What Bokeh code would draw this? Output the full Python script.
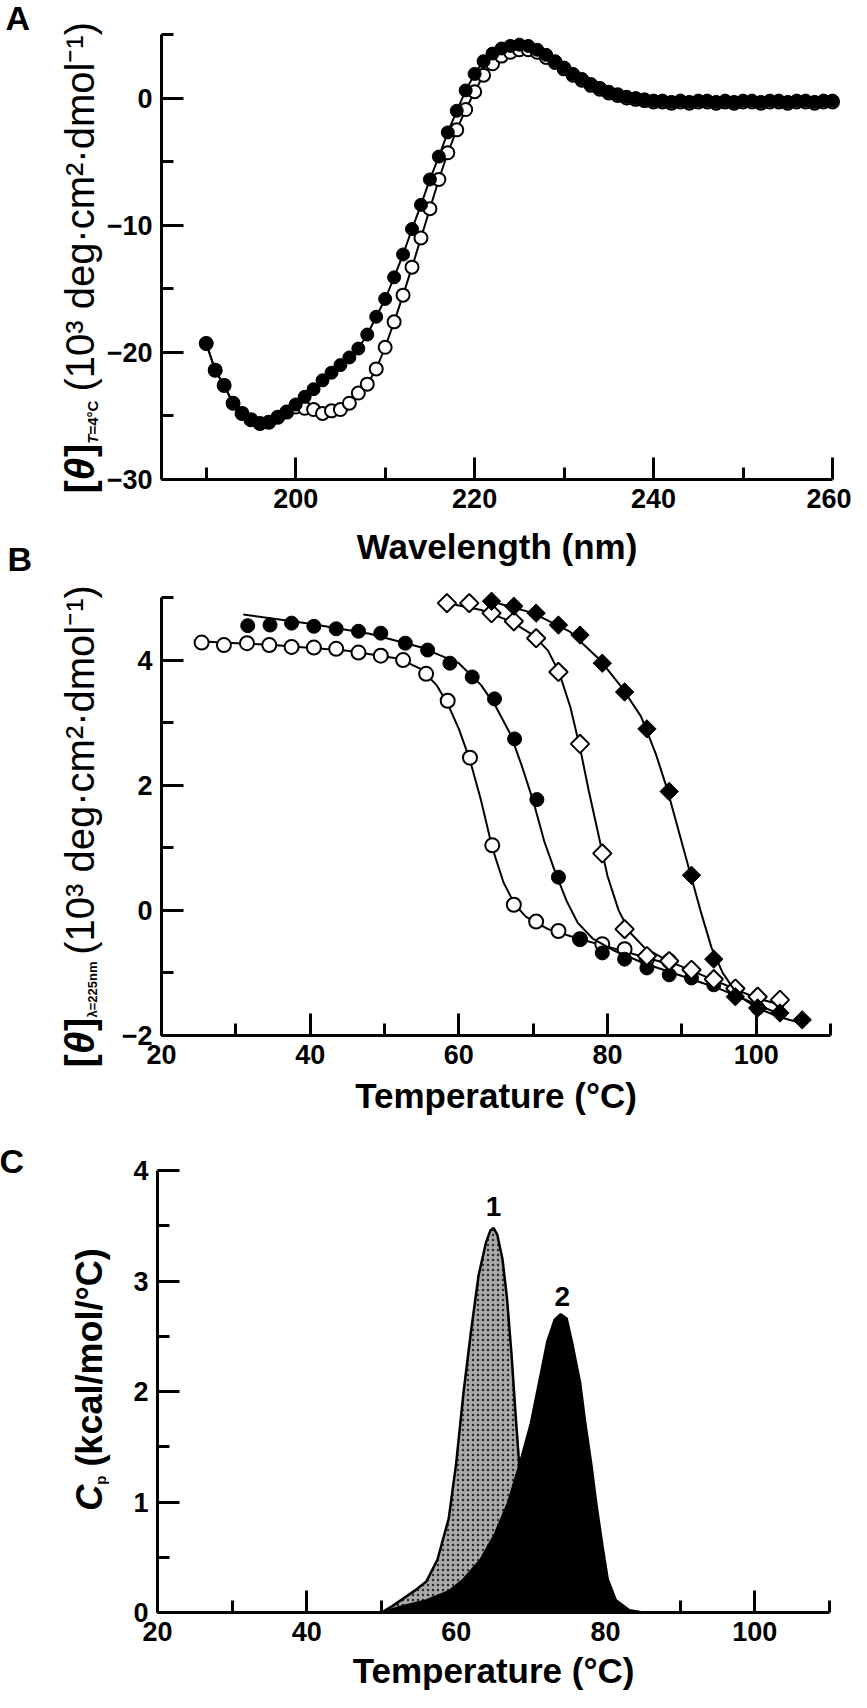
import math
from bokeh.plotting import figure
from bokeh.models import Label, FixedTicker, Range1d, LinearAxis
from bokeh.layouts import column
from bokeh.embed import file_html
from bokeh.resources import INLINE

FONT = "Liberation Sans"

# ---------------- Panel A data: CD spectra at 4 °C ----------------
wl = list(range(190, 261))
theta_filled = [-19.3, -21.4, -22.6, -24.0, -24.8, -25.3, -25.6, -25.5, -25.1, -24.7,
                -24.1, -23.5, -22.9, -22.2, -21.6, -21.0, -20.4, -19.7, -18.6, -17.2,
                -15.8, -14.1, -12.3, -10.3, -8.4, -6.4, -4.6, -2.7, -1.0, 0.6,
                1.9, 2.9, 3.5, 3.9, 4.1, 4.2, 4.1, 3.8, 3.4, 2.9,
                2.4, 1.9, 1.5, 1.1, 0.8, 0.5, 0.3, 0.1, 0.0, -0.1,
                -0.2, -0.2, -0.3, -0.2, -0.3, -0.2, -0.2, -0.3, -0.2, -0.3,
                -0.2, -0.2, -0.3, -0.2, -0.2, -0.3, -0.2, -0.2, -0.3, -0.2, -0.2]
theta_open = [-19.3, -21.4, -22.6, -24.0, -24.8, -25.3, -25.6, -25.5, -25.1, -24.7,
              -24.3, -24.4, -24.5, -24.8, -24.6, -24.5, -24.0, -23.2, -22.5, -21.3,
              -19.6, -17.6, -15.5, -13.3, -11.0, -8.7, -6.4, -4.3, -2.5, -0.9,
              0.5, 1.8, 2.7, 3.3, 3.6, 3.8, 3.8, 3.6, 3.2, 2.8,
              2.3, 1.8, 1.4, 1.0, 0.7, 0.4, 0.2, 0.0, -0.1, -0.2,
              -0.3, -0.3, -0.4, -0.3, -0.4, -0.3, -0.3, -0.4, -0.3, -0.4,
              -0.3, -0.3, -0.4, -0.3, -0.3, -0.4, -0.3, -0.3, -0.4, -0.3, -0.3]

# ---------------- Panel B data: thermal melts at 225 nm ----------------
oc_T = [25.4, 28.4, 31.5, 34.5, 37.5, 40.5, 43.5, 46.5, 49.5, 52.5, 55.6,
        58.5, 61.5, 64.5, 67.4, 70.4, 73.4, 76.3, 79.3, 82.3, 85.3, 88.3]
oc_V = [4.28, 4.24, 4.27, 4.24, 4.21, 4.20, 4.18, 4.12, 4.07, 4.00, 3.78,
        3.35, 2.44, 1.04, 0.09, -0.18, -0.33, -0.46, -0.54, -0.62, -0.78, -0.81]
oc_fit_T = [25, 35, 45, 52, 55, 57, 58.5, 60, 61.5, 63, 64.5, 66, 67.5, 69, 72, 76, 80, 85, 88]
oc_fit_V = [4.30, 4.24, 4.15, 4.02, 3.85, 3.6, 3.3, 2.9, 2.4, 1.75, 1.0, 0.45, 0.1, -0.1, -0.3, -0.45, -0.58, -0.75, -0.85]

fc_T = [31.6, 34.6, 37.5, 40.5, 43.5, 46.5, 49.5, 52.8, 55.8, 58.8, 61.8, 64.8,
        67.5, 70.5, 73.4, 76.3, 79.3, 82.3, 85.3, 88.3, 91.3, 94.3, 97.2, 100.2]
fc_V = [4.55, 4.56, 4.59, 4.54, 4.50, 4.46, 4.43, 4.27, 4.16, 3.95, 3.73, 3.38,
        2.74, 1.77, 0.53, -0.46, -0.68, -0.78, -0.92, -1.03, -1.08, -1.19, -1.30, -1.56]
fc_fit_T = [31, 40, 48, 55, 60, 63, 65, 67, 68.5, 70, 71.5, 73, 74.5, 76, 78, 81, 85, 90, 95, 100, 104]
fc_fit_V = [4.73, 4.58, 4.42, 4.2, 3.95, 3.6, 3.25, 2.8, 2.3, 1.75, 1.1, 0.6, 0.15, -0.2, -0.45,
            -0.65, -0.85, -1.05, -1.25, -1.5, -1.7]

od_T = [58.4, 61.4, 64.4, 67.4, 70.4, 73.4, 76.3, 79.3, 82.3, 85.3, 88.3, 91.3, 94.3, 97.2, 100.2, 103.2]
od_V = [4.91, 4.91, 4.75, 4.62, 4.35, 3.81, 2.66, 0.91, -0.30, -0.73, -0.81, -0.95, -1.10, -1.25, -1.38, -1.43]
od_fit_T = [58, 63, 67, 70, 72, 73.5, 75, 76.3, 77.5, 78.8, 80, 81.5, 83, 85, 88, 92, 96, 100, 103]
od_fit_V = [4.92, 4.8, 4.62, 4.4, 4.15, 3.8, 3.25, 2.6, 1.9, 1.2, 0.55, 0.0, -0.35, -0.6, -0.8, -1.0, -1.2, -1.4, -1.5]

fd_T = [64.4, 67.4, 70.4, 73.4, 76.3, 79.3, 82.3, 85.3, 88.3, 91.3, 94.3, 97.2, 100.2, 103.2, 106.2]
fd_V = [4.94, 4.86, 4.75, 4.56, 4.40, 3.95, 3.49, 2.90, 1.90, 0.56, -0.78, -1.38, -1.56, -1.64, -1.75]
fd_fit_T = [64, 70, 75, 79, 82, 84.5, 86.5, 88, 89.5, 91, 92.5, 94, 95.5, 97.5, 100, 103, 106]
fd_fit_V = [4.95, 4.75, 4.45, 4.0, 3.55, 3.1, 2.5, 1.95, 1.3, 0.65, 0.0, -0.6, -1.0, -1.35, -1.55, -1.7, -1.8]

# ---------------- Panel C data: DSC ----------------
dsc1_T = [50.0, 51.5, 53.0, 54.5, 56.0, 57.5, 59.0, 60.0, 61.0, 62.0, 63.0, 64.0, 64.6, 65.0,
          65.5, 66.2, 66.8, 67.4, 68.0, 68.6, 69.3, 70.0, 71.0, 72.5, 74.0, 76.0]
dsc1_Cp = [0.0, 0.06, 0.13, 0.2, 0.28, 0.48, 0.85, 1.35, 2.0, 2.55, 3.05, 3.35, 3.46, 3.48,
           3.42, 3.2, 2.85, 2.35, 1.75, 1.2, 0.75, 0.42, 0.18, 0.06, 0.02, 0.0]
dsc2_T = [50.0, 53.0, 56.0, 59.0, 61.0, 63.3, 65.2, 67.0, 68.5, 70.0, 71.1, 72.2, 73.2, 74.0,
          74.8, 75.5, 76.6, 77.3, 78.1, 78.8, 79.6, 80.3, 81.4, 83.2, 85.0]
dsc2_Cp = [0.0, 0.06, 0.11, 0.19, 0.3, 0.48, 0.71, 1.0, 1.34, 1.71, 2.08, 2.45, 2.65, 2.7,
           2.66, 2.45, 2.08, 1.71, 1.34, 0.97, 0.6, 0.3, 0.11, 0.02, 0.0]
peak_labels = ["1", "2"]
peak_label_T = [65.0, 74.2]
peak_label_Cp = [3.59, 2.77]

# ---------------- ticks ----------------
A_xmajor, A_xminor = [200, 220, 240, 260], [190, 210, 230, 250]
A_ymajor, A_yminor = [0, -10, -20, -30], [5, -5, -15, -25]
T_xmajor, T_xminor = [20, 40, 60, 80, 100], [30, 50, 70, 90, 110]
B_ymajor, B_yminor = [4, 2, 0, -2], [5, 3, 1, -1]
C_ymajor, C_yminor = [0, 1, 2, 3, 4], [0.5, 1.5, 2.5, 3.5]

# approximate advance widths (em) used to lay out multi-part labels
W = {'[': 0.333, ']': 0.333, 'θ': 0.58, 'T': 0.611, '=': 0.584, '4': 0.556, '°': 0.4, 'C': 0.722,
     'λ': 0.5, '2': 0.556, '5': 0.556, 'n': 0.556, 'm': 0.833, 'p': 0.611, ' ': 0.278, '(': 0.333,
     ')': 0.333, '1': 0.556, '0': 0.556, '³': 0.333, 'd': 0.556, 'e': 0.556, 'g': 0.556, '·': 0.278,
     'c': 0.5, '²': 0.333, 'o': 0.556, 'l': 0.222, '⁻': 0.5, '¹': 0.333, 'k': 0.556, 'a': 0.556, '/': 0.278}

PAGE_W = 851     # figure width (page is 867 with 8px margins)
MID = 0.347      # distance (em) from the text box middle down to the baseline


def tw(s, size):
    return sum(W.get(c, 0.556) for c in s) * size


def label(p, x, y, text, size, style="normal", xo=0, yo=0, angle=0, align="left"):
    """(xo, yo) place the text baseline; the label is anchored at its box middle."""
    if angle == 0:
        yo = yo + MID * size
    else:
        xo = xo - MID * size
    p.add_layout(Label(x=x, y=y, text=text, x_offset=xo, y_offset=yo, angle=angle,
                       text_align=align, text_baseline="middle", text_font=FONT,
                       text_font_size=f"{size}px", text_font_style=style, text_color="black"))


def ylabel(p, pieces, x, yc, base_xo, shift=0):
    """pieces: (text, style, size, baseline shift, gap before) laid out bottom-to-top."""
    total = sum(tw(t, sz) + g for t, st, sz, d, g in pieces)
    s = -total / 2 + shift
    for t, st, sz, d, g in pieces:
        s += g
        label(p, x, yc, t, sz, st, xo=base_xo + d, yo=s, angle=math.pi / 2)
        s += tw(t, sz)


def make_panel(fig_top, fig_h, box, xlim, ylim, xt, yt, overrides=None):
    """box = (left, right, top, bottom) of the data area in page pixels."""
    L, R, T, B = box
    x0, x1 = xlim
    y0, y1 = ylim
    xs = (R - L) / (x1 - x0)
    ys = (B - T) / (y1 - y0)
    xr = Range1d(x0 - (L - 8) / xs, x1 + (8 + PAGE_W - R) / xs)
    yr = Range1d(y0 - (fig_top + fig_h - B) / ys, y1 + (T - fig_top) / ys)
    p = figure(width=PAGE_W, height=fig_h, x_range=xr, y_range=yr,
               output_backend="svg", toolbar_location=None,
               x_axis_location=None, y_axis_location=None,
               min_border=0)
    p.outline_line_color = None
    p.xgrid.grid_line_color = None
    p.ygrid.grid_line_color = None
    p.background_fill_color = "white"
    p.border_fill_color = "white"
    xa = LinearAxis(fixed_location=y0, bounds=(x0, x1),
                    ticker=FixedTicker(ticks=xt[0], minor_ticks=xt[1]))
    ya = LinearAxis(fixed_location=x0, bounds=(y0, y1),
                    ticker=FixedTicker(ticks=yt[0], minor_ticks=yt[1]))
    for ax in (xa, ya):
        ax.axis_line_width = 3
        ax.axis_line_color = "black"
        ax.major_tick_line_width = 3
        ax.minor_tick_line_width = 3
        ax.major_tick_line_color = "black"
        ax.minor_tick_line_color = "black"
        ax.major_tick_in = 22
        ax.major_tick_out = 0
        ax.minor_tick_in = 12
        ax.minor_tick_out = 0
        ax.major_label_text_font = FONT
        ax.major_label_text_font_style = "bold"
        ax.major_label_text_font_size = "27px"
        ax.major_label_text_color = "black"
        ax.major_label_standoff = 9
    if overrides:
        ya.major_label_overrides = overrides
    p.add_layout(xa, "below")
    p.add_layout(ya, "left")
    return p


# ---------------- Panel A ----------------
pA = make_panel(8, 580, (169, 840, 42, 487), (185, 260), (-30, 5),
                (A_xmajor, A_xminor), (A_ymajor, A_yminor),
                {0: "0", -10: "\u221210", -20: "\u221220", -30: "\u221230"})
pA.line(wl, theta_open, line_color="black", line_width=2)
pA.scatter(wl, theta_open, marker="circle", size=13, fill_color="white", line_color="black", line_width=2)
pA.line(wl, theta_filled, line_color="black", line_width=2)
pA.scatter(wl, theta_filled, marker="circle", size=13, fill_color="black", line_color="black", line_width=1)
label(pA, 222.5, -30, "Wavelength (nm)", 35, "bold", yo=-79, align="center")
label(pA, 185, 5, "A", 34, "bold", xo=-156, yo=5)
label(pA, 185, -30, "B", 34, "bold", xo=-154, yo=-91)
ylabel(pA, [("[", "bold", 40, 0, 0), ("θ", "bold italic", 40, 0, 0), ("]", "bold", 40, 0, 0),
            ("T", "bold italic", 15, 4, 0), ("=4°C", "bold", 15, 4, 0),
            ("(10³ deg·cm²·dmol⁻¹)", "normal", 40, 0, 9)], 185, -12.5, -68)

# ---------------- Panel B ----------------
pB = make_panel(588, 547, (169, 838, 605, 1043), (20, 110), (-2, 5),
                (T_xmajor, T_xminor), (B_ymajor, B_yminor),
                {4: "4", 2: "2", 0: "0", -2: "\u22122"})
pB.line(oc_fit_T, oc_fit_V, line_color="black", line_width=2)
pB.scatter(oc_T, oc_V, marker="circle", size=14, fill_color="white", line_color="black", line_width=2)
pB.line(fc_fit_T, fc_fit_V, line_color="black", line_width=2)
pB.scatter(fc_T, fc_V, marker="circle", size=14, fill_color="black", line_color="black", line_width=1)
pB.line(od_fit_T, od_fit_V, line_color="black", line_width=2)
pB.scatter(od_T, od_V, marker="square", angle=math.pi / 4, size=13, fill_color="white", line_color="black", line_width=2)
pB.line(fd_fit_T, fd_fit_V, line_color="black", line_width=2)
pB.scatter(fd_T, fd_V, marker="square", angle=math.pi / 4, size=13, fill_color="black", line_color="black", line_width=1)
label(pB, 65, -2, "Temperature (°C)", 35, "bold", yo=-72, align="center")
ylabel(pB, [("[", "bold", 40, 0, 0), ("θ", "bold italic", 40, 0, 0), ("]", "bold", 40, 0, 0),
            ("λ=225nm", "bold", 13, 4, 0),
            ("(10³ deg·cm²·dmol⁻¹)", "normal", 40, 0, 9)], 20, 1.5, -68, shift=-9)

# ---------------- Panel C ----------------
pC = make_panel(1135, 565, (165, 837, 1178, 1620), (20, 110), (0, 4),
                (T_xmajor, T_xminor), (C_ymajor, C_yminor))
pC.patch(dsc1_T, dsc1_Cp, fill_color="#a9a9a9", line_color="black", line_width=2.5,
         hatch_pattern="dot", hatch_color="#2a2a2a", hatch_scale=5, hatch_weight=1.5)
pC.patch(dsc2_T, dsc2_Cp, fill_color="black", line_color="black", line_width=2.5)
for t, x, y in zip(peak_labels, peak_label_T, peak_label_Cp):
    label(pC, x, y, t, 28, "bold", align="center")
label(pC, 65, 0, "Temperature (°C)", 35, "bold", yo=-70, align="center")
label(pC, 20, 4, "C", 34, "bold", xo=-158, yo=-2)
ylabel(pC, [("C", "bold italic", 36, 0, 0), ("p", "bold", 15, 4, 0),
            ("(kcal/mol/°C)", "bold", 36, 0, 9)], 20, 2.0, -56, shift=7)

layout = column(pA, pB, pC, spacing=0)
open("out.html", "w").write(file_html(layout, INLINE))
